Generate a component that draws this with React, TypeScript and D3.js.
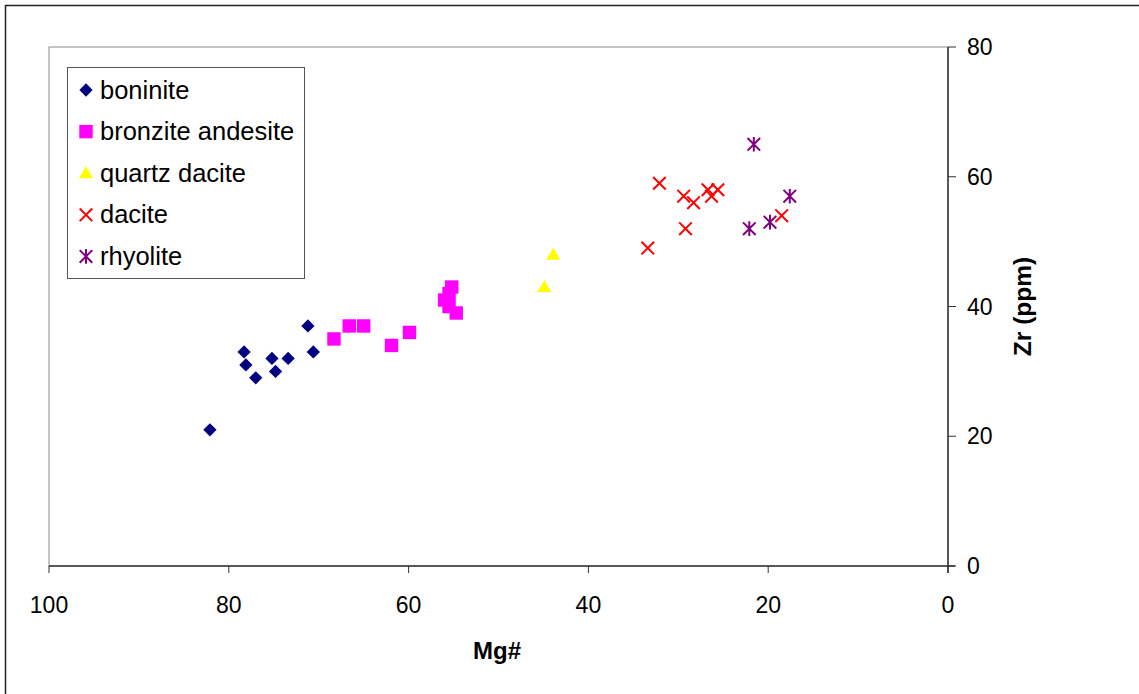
import React from "react";
import * as d3 from "d3";

const W = 1139;
const H = 694;

const seriesNames = ["boninite", "bronzite andesite", "quartz dacite", "dacite", "rhyolite"];
const seriesColors = ["#000080", "#FF00FF", "#FFFF00", "#FF0000", "#800080"];

const boniniteMg = [82.1, 78.3, 78.1, 77.0, 75.2, 74.8, 73.4, 71.2, 70.6];
const boniniteZr = [21, 33, 31, 29, 32, 30, 32, 37, 33];
const bronziteMg = [68.3, 66.6, 65.0, 61.9, 59.9, 55.2, 55.5, 56.0, 55.5, 54.7];
const bronziteZr = [35, 37, 37, 34, 36, 43, 42, 41, 40, 39];
const quartzMg = [44.9, 43.9];
const quartzZr = [43, 48];
const daciteMg = [32.1, 29.4, 28.3, 26.7, 25.6, 26.3, 29.2, 33.4, 18.5];
const daciteZr = [59, 57, 56, 58, 58, 57, 52, 49, 54];
const rhyoliteMg = [21.6, 17.6, 22.1, 19.8];
const rhyoliteZr = [65, 57, 52, 53];

const xTicks = [100, 80, 60, 40, 20, 0];
const yTicks = [0, 20, 40, 60, 80];

const seriesMg = [boniniteMg, bronziteMg, quartzMg, daciteMg, rhyoliteMg];
const seriesZr = [boniniteZr, bronziteZr, quartzZr, daciteZr, rhyoliteZr];

const plot = { left: 49, right: 948, top: 47, bottom: 566 };

const FONT = "'Liberation Sans', Arial, sans-serif";

function Marker({ kind, x, y }: { kind: number; x: number; y: number }) {
  const color = seriesColors[kind];
  if (kind === 0) {
    const p = d3.symbol().type(d3.symbolSquare).size(88)();
    return <path d={p || ""} transform={`translate(${x},${y}) rotate(45)`} fill={color} />;
  }
  if (kind === 1) {
    const p = d3.symbol().type(d3.symbolSquare).size(180)();
    return <path d={p || ""} transform={`translate(${x},${y})`} fill={color} />;
  }
  if (kind === 2) {
    const p = d3.symbol().type(d3.symbolTriangle).size(85)();
    return <path d={p || ""} transform={`translate(${x},${y + 1})`} fill={color} />;
  }
  const r = 6.3;
  const path = d3.path();
  path.moveTo(-r, -r);
  path.lineTo(r, r);
  path.moveTo(-r, r);
  path.lineTo(r, -r);
  if (kind === 4) {
    path.moveTo(0, -r - 1);
    path.lineTo(0, r + 1);
  }
  return (
    <path d={path.toString()} transform={`translate(${x},${y})`} stroke={color} strokeWidth={2} fill="none" />
  );
}

export default function App() {
  const x = d3.scaleLinear().domain([100, 0]).range([plot.left, plot.right]);
  const y = d3.scaleLinear().domain([0, 80]).range([plot.bottom, plot.top]);

  const legend = { x: 67.5, y: 67.5, w: 237, h: 211, rowH: 41.6, firstY: 90 };

  return (
    <svg
      width={W}
      height={H}
      style={{ position: "absolute", left: 0, top: 0, background: "#fff" }}
      fontFamily={FONT}
    >
      <rect x={0} y={0} width={W} height={H} fill="#fff" />
      {/* outer chart border */}
      <rect x={5.5} y={5.5} width={W} height={H} fill="none" stroke="#222" strokeWidth={1.5} />

      {/* plot area border */}
      <rect
        x={plot.left}
        y={plot.top}
        width={plot.right - plot.left}
        height={plot.bottom - plot.top}
        fill="none"
        stroke="#8a8a8a"
        strokeWidth={1}
      />

      {/* x axis */}
      <line x1={plot.left} x2={plot.right + 7} y1={plot.bottom} y2={plot.bottom} stroke="#333" strokeWidth={1.5} />
      {xTicks.map((t) => (
        <g key={"xt" + t}>
          <line x1={x(t)} x2={x(t)} y1={plot.bottom} y2={plot.bottom + 7} stroke="#333" strokeWidth={1} />
          <text x={x(t)} y={plot.bottom + 47} textAnchor="middle" fontSize={23} fill="#000">
            {t}
          </text>
        </g>
      ))}

      {/* y axis (right) */}
      <line x1={plot.right} x2={plot.right} y1={plot.top} y2={plot.bottom + 7} stroke="#333" strokeWidth={1.5} />
      {yTicks.map((t) => (
        <g key={"yt" + t}>
          <line x1={plot.right} x2={plot.right + 8} y1={y(t)} y2={y(t)} stroke="#333" strokeWidth={1} />
          <text x={plot.right + 19} y={y(t) + 8} textAnchor="start" fontSize={23} fill="#000">
            {t}
          </text>
        </g>
      ))}

      {/* axis titles */}
      <text x={497} y={659} textAnchor="middle" fontSize={24} fontWeight="bold" fill="#000">
        Mg#
      </text>
      <text
        transform={`translate(1031,${(plot.top + plot.bottom) / 2}) rotate(-90)`}
        textAnchor="middle"
        fontSize={24.5}
        fontWeight="bold"
        fill="#000"
      >
        Zr (ppm)
      </text>

      {/* data */}
      {seriesMg.map((mgs, si) =>
        mgs.map((mg, i) => <Marker key={`p${si}-${i}`} kind={si} x={x(mg)} y={y(seriesZr[si][i])} />)
      )}

      {/* legend */}
      <rect x={legend.x} y={legend.y} width={legend.w} height={legend.h} fill="#fff" stroke="#555" strokeWidth={1} />
      {seriesNames.map((name, i) => {
        const cy = legend.firstY + i * legend.rowH;
        return (
          <g key={"lg" + i}>
            <Marker kind={i} x={86} y={cy} />
            <text x={100} y={cy + 8.5} fontSize={25.5} fill="#000">
              {name}
            </text>
          </g>
        );
      })}
    </svg>
  );
}
